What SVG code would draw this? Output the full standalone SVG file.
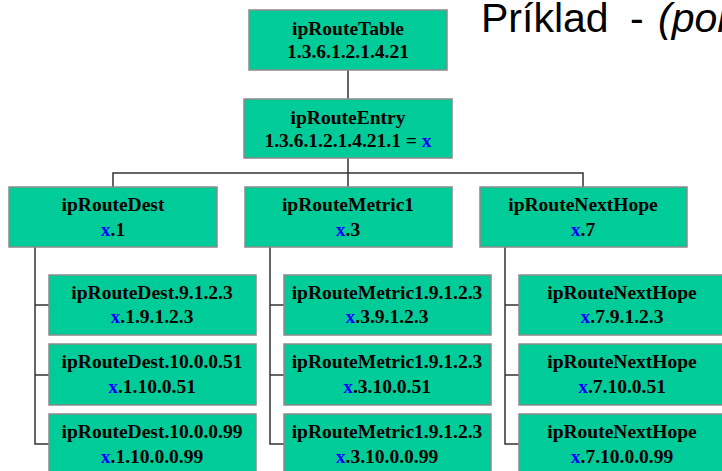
<svg xmlns="http://www.w3.org/2000/svg" width="722" height="471" viewBox="0 0 722 471">
<defs>
<style>
.box{fill:#00CC99;stroke:#8a8a8a;stroke-width:1.5}
.t{font-family:"Liberation Serif","Times New Roman",serif;font-weight:bold;font-size:19.5px;fill:#000;text-anchor:middle}
.x{fill:#0000FF}
.c{fill:none;stroke:#333;stroke-width:1.5}
.title{font-family:"Liberation Sans",Arial,sans-serif;font-size:41px;fill:#000}
</style>
</defs>
<rect width="722" height="471" fill="#fff"/>
<text class="title" x="481" y="32">Príklad <tspan x="630">- </tspan><tspan x="658" font-style="italic">(pok</tspan></text>
<g id="connectors">
<path class="c" d="M348,70V99M348,158V187M113,187V173H583V187"/>
<path class="c" d="M35,247V444H49M35,305H49M35,375H49"/>
<path class="c" d="M270,247V444H284M270,305H284M270,375H284"/>
<path class="c" d="M505,247V444H519M505,305H519M505,375H519"/>
</g>
<g id="ipRouteTable"><rect class="box" x="249" y="10" width="198" height="60"/>
<text class="t" x="348" y="35">ipRouteTable</text><text class="t" x="348" y="58">1.3.6.1.2.1.4.21</text></g>
<g id="ipRouteEntry"><rect class="box" x="244" y="99" width="208" height="59"/>
<text class="t" x="348" y="124">ipRouteEntry</text><text class="t" x="348" y="147">1.3.6.1.2.1.4.21.1 = <tspan class="x">x</tspan></text></g>
<g id="ipRouteDest"><rect class="box" x="9" y="187" width="208" height="60"/>
<text class="t" x="113" y="211">ipRouteDest</text><text class="t" x="113" y="236"><tspan class="x">x</tspan>.1</text></g>
<g id="ipRouteMetric1"><rect class="box" x="245" y="187" width="207" height="60"/>
<text class="t" x="348" y="211">ipRouteMetric1</text><text class="t" x="348" y="236"><tspan class="x">x</tspan>.3</text></g>
<g id="ipRouteNextHope"><rect class="box" x="480" y="187" width="207" height="60"/>
<text class="t" x="583" y="211">ipRouteNextHope</text><text class="t" x="583" y="236"><tspan class="x">x</tspan>.7</text></g>
<g id="dest1"><rect class="box" x="49" y="275" width="207" height="60"/>
<text class="t" x="152" y="299">ipRouteDest.9.1.2.3</text><text class="t" x="152" y="323"><tspan class="x">x</tspan>.1.9.1.2.3</text></g>
<g id="dest2"><rect class="box" x="49" y="344" width="207" height="61"/>
<text class="t" x="152" y="368">ipRouteDest.10.0.0.51</text><text class="t" x="152" y="393"><tspan class="x">x</tspan>.1.10.0.51</text></g>
<g id="dest3"><rect class="box" x="49" y="414" width="207" height="61"/>
<text class="t" x="152" y="438">ipRouteDest.10.0.0.99</text><text class="t" x="152" y="463"><tspan class="x">x</tspan>.1.10.0.0.99</text></g>
<g id="metric1"><rect class="box" x="284" y="275" width="207" height="60"/>
<text class="t" x="387" y="299">ipRouteMetric1.9.1.2.3</text><text class="t" x="387" y="323"><tspan class="x">x</tspan>.3.9.1.2.3</text></g>
<g id="metric2"><rect class="box" x="284" y="344" width="207" height="61"/>
<text class="t" x="387" y="368">ipRouteMetric1.9.1.2.3</text><text class="t" x="387" y="393"><tspan class="x">x</tspan>.3.10.0.51</text></g>
<g id="metric3"><rect class="box" x="284" y="414" width="207" height="61"/>
<text class="t" x="387" y="438">ipRouteMetric1.9.1.2.3</text><text class="t" x="387" y="463"><tspan class="x">x</tspan>.3.10.0.0.99</text></g>
<g id="hop1"><rect class="box" x="519" y="275" width="207" height="60"/>
<text class="t" x="622" y="299">ipRouteNextHope</text><text class="t" x="622" y="323"><tspan class="x">x</tspan>.7.9.1.2.3</text></g>
<g id="hop2"><rect class="box" x="519" y="344" width="207" height="61"/>
<text class="t" x="622" y="368">ipRouteNextHope</text><text class="t" x="622" y="393"><tspan class="x">x</tspan>.7.10.0.51</text></g>
<g id="hop3"><rect class="box" x="519" y="414" width="207" height="61"/>
<text class="t" x="622" y="438">ipRouteNextHope</text><text class="t" x="622" y="463"><tspan class="x">x</tspan>.7.10.0.0.99</text></g>
</svg>
